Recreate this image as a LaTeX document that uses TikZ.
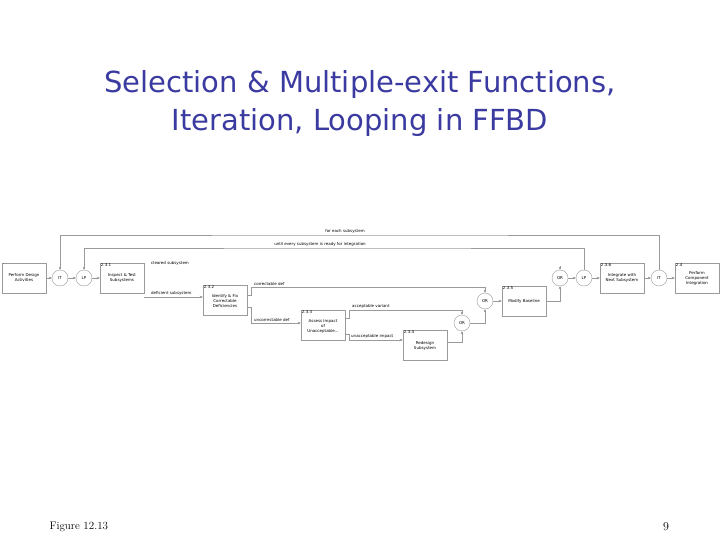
\documentclass[tikz,border=0pt]{standalone}
\usepackage{fontspec}
\setsansfont{DejaVu Sans}
\usetikzlibrary{arrows.meta}
\definecolor{ttl}{HTML}{3A3AA0}
\definecolor{ln}{HTML}{9A9A9A}
\tikzset{
  fbox/.style={draw=ln,line width=0.5pt,minimum width=44pt,minimum height=30pt,font=\sffamily\fontsize{4}{5}\selectfont,align=center,inner sep=1pt},
  gate/.style={draw=ln,circle,minimum size=16pt,inner sep=0pt,font=\sffamily\fontsize{4}{5}\selectfont},
  lbl/.style={font=\sffamily\fontsize{4}{5}\selectfont,inner sep=1pt},
  num/.style={font=\sffamily\fontsize{4}{5}\selectfont,inner sep=1pt,anchor=north west},
  con/.style={draw=ln,line width=0.5pt,-{Stealth[length=3pt,width=2.5pt,fill=black]}},
  ln0/.style={draw=ln,line width=0.5pt}
}
\begin{document}
\begin{tikzpicture}[x=1pt,y=-1pt]
\useasboundingbox (0,0) rectangle (720,540);
\node[font=\sffamily\fontsize{29}{38}\selectfont,text=ttl,align=center] (title) at (360,104) {Selection \& Multiple-exit Functions,\\Iteration, Looping in FFBD};
\node[font=\fontsize{11}{13}\selectfont,anchor=west] (fig) at (46,527) {Figure 12.13};
\node[font=\fontsize{12}{14}\selectfont] (pg) at (666,527) {9};

\node[fbox] (pd) at (24,278) {Perform Design\\Activities};
\node[num] at (pd.north west) {.};
\node[gate] (it1) at (60,278) {IT};
\node[gate] (lp1) at (84,278) {LP};
\node[fbox] (b231) at (122,278) {Inspect \& Test\\Subsystems};
\node[num] at (b231.north west) {2.3.1};
\node[fbox] (b232) at (225,300) {\\Identify \& Fix\\Correctable\\Deficiencies};
\node[num] at (b232.north west) {2.3.2};
\node[fbox] (b233) at (323,325) {\\Assess Impact\\of\\Unacceptable...};
\node[num] at (b233.north west) {2.3.3};
\node[fbox] (b234) at (425,345) {\\Redesign\\Subsystem};
\node[num] at (b234.north west) {2.3.4};
\node[gate] (or3) at (462,323) {OR};
\node[gate] (or1) at (485,301) {OR};
\node[fbox] (b235) at (524,301) {Modify Baseline};
\node[num] at (b235.north west) {2.3.5};
\node[gate] (or2) at (560,278) {OR};
\node[gate] (lp2) at (584,278) {LP};
\node[fbox] (b236) at (622,278) {Integrate with\\Next Subsystem};
\node[num] at (b236.north west) {2.3.6};
\node[gate] (it2) at (659,278) {IT};
\node[fbox] (b24) at (697,278) {Perform\\Component\\Integration};
\node[num] at (b24.north west) {2.4};

\draw[con] (pd) -- (it1);
\draw[con] (it1) -- (lp1);
\draw[con] (lp1) -- (b231);
\draw[con] (or2) -- (lp2);
\draw[con] (lp2) -- (b236);
\draw[con] (b236) -- (it2);
\draw[con] (it2) -- (b24);
\draw[con] (it2.north) |- (360,235) -| (it1.north);
\draw[con] (lp2.north) |- (360,248) -| (lp1.north);
\node[lbl,anchor=south] (l1) at (345,235) {for each subsystem};
\node[lbl,anchor=south] (l2) at (320,248) {until every subsystem is ready for integration};

\coordinate (c0) at (560,266);
\draw[con] (c0) -- (or2.north);
\node[lbl,anchor=south west] (l3) at (150,267) {cleared subsystem};

\draw[con] (b231.east |- 0,297) -- (b232.west |- 0,297);
\node[lbl,anchor=south west] (l4) at (150,297) {deficient subsystem};

\draw[con] (b232.east |- 0,295) -- (251,295) |- (485,287) -- (or1.north);
\node[lbl,anchor=south west] (l5) at (253,287) {correctable def};
\draw[con] (b232.east |- 0,307) -- (251,307) |- (b233.west |- 0,323);
\node[lbl,anchor=south west] (l6) at (253,323) {uncorrectable def};

\draw[con] (b233.east |- 0,318) -- (349,318) |- (462,310) -- (or3.north);
\node[lbl,anchor=south west] (l7) at (351,310) {acceptable variant};
\draw[con] (b233.east |- 0,334) -- (349,334) |- (b234.west |- 0,340);
\node[lbl,anchor=south west] (l8) at (350,340) {unacceptable impact};
\draw[con] (b234.east |- 0,342) -- (462,342) -- (or3.south);
\draw[con] (or3.east) -- (485,323) -- (or1.south);
\draw[con] (or1) -- (b235);
\draw[con] (b235.east) -- (560,301) -- (or2.south);
\end{tikzpicture}
\end{document}
